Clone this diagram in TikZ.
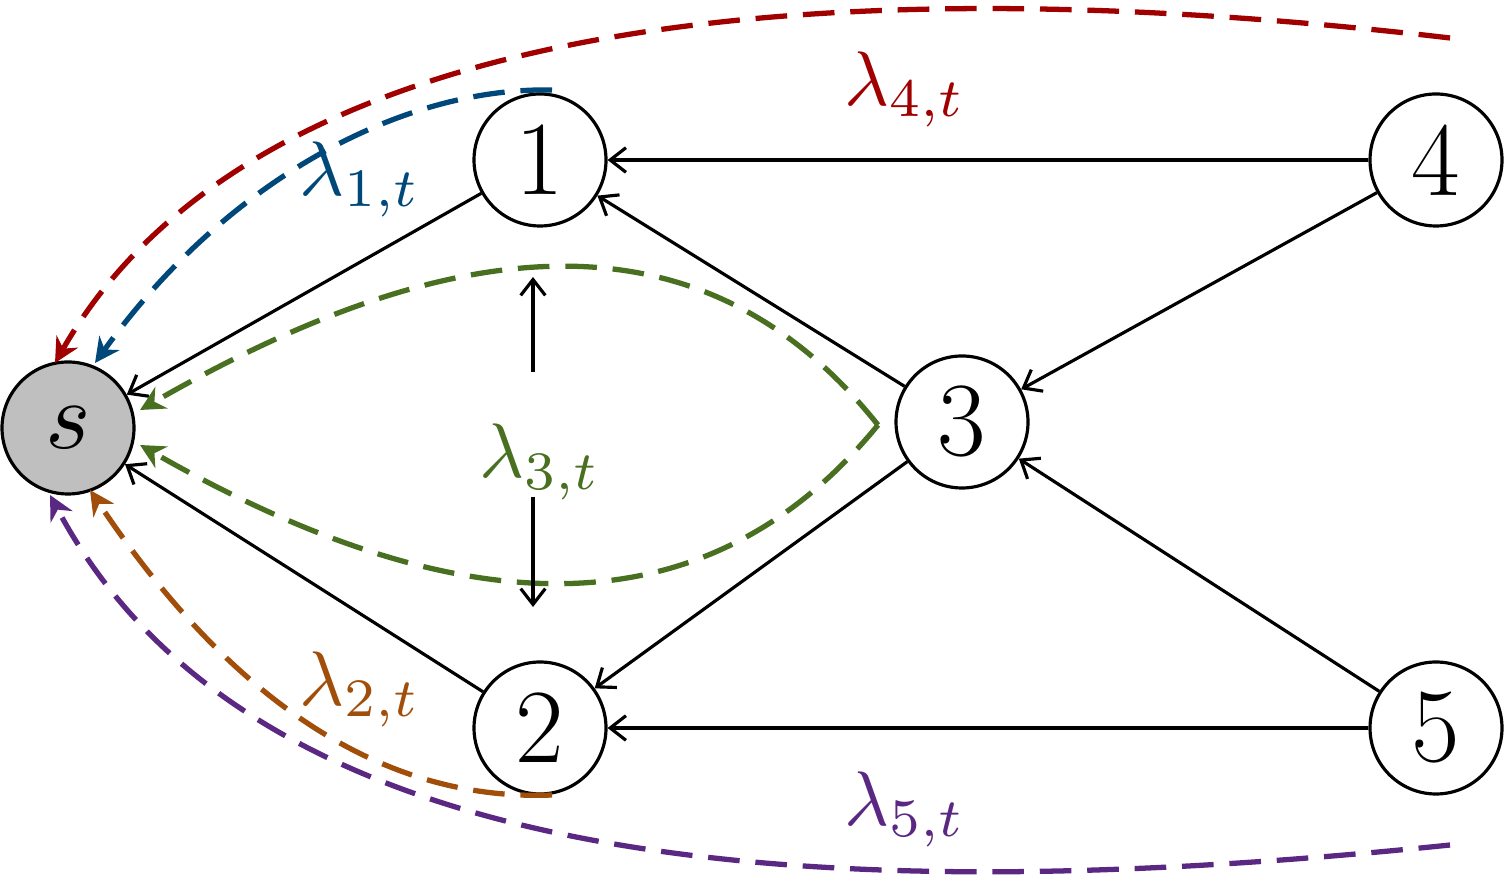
\documentclass[tikz,border=0pt]{standalone}
\usetikzlibrary{arrows.meta,positioning}
\definecolor{lred}{RGB}{160,0,0}
\definecolor{lblue}{RGB}{0,72,122}
\definecolor{lgreen}{RGB}{72,112,32}
\definecolor{lorange}{RGB}{160,78,10}
\definecolor{lpurple}{RGB}{90,40,130}
\newcommand{\rate}[1]{\scalebox{4.4}{$\lambda_{#1,t}$}}
\begin{document}
\begin{tikzpicture}[>={Straight Barb[length=9pt,width=14pt]}]
    \tikzset{vtx/.style={circle,draw=black,line width=1.8pt,minimum size=2.64cm,inner sep=0pt,font=\fontsize{60}{64}\selectfont},
      link/.style={->,line width=1.8pt},
      flow/.style={-{Stealth[length=14pt,width=14pt]},dashed,dash pattern=on 18pt off 9pt,line width=3pt}}
    \useasboundingbox (0,0) rectangle (30.08,17.64);

    \node[vtx,fill=black!25](s) at (1.36,9.08){\normalsize\scalebox{5.5}{$s$}};
    \node[vtx](n1) at (10.8,14.44){1};
    \node[vtx](n4) at (28.72,14.44){4};
    \node[vtx](n3) at (19.24,9.2){3};
    \node[vtx](n2) at (10.8,3.08){2};
    \node[vtx](n5) at (28.72,3.08){5};

    \draw[link] (n4) -- (n1);
    \draw[link] (n4) -- (n3);
    \draw[link] (n3) -- (n1);
    \draw[link] (n3) -- (n2);
    \draw[link] (n5) -- (n3);
    \draw[link] (n5) -- (n2);
    \draw[link] (n1) -- (s);
    \draw[link] (n2) -- (s);

    % dashed flows
    \coordinate (r0) at (29,16.88);
    \coordinate (b0) at (11.04,15.84);
    \coordinate (o0) at (11.04,1.74);
    \coordinate (p0) at (29,0.74);
    \coordinate (g0) at (17.56,9.14);
    \draw[flow,lred] (r0) .. controls (16,18.4) and (5,17.2) .. (1.1,10.38);
    \draw[flow,lblue] (b0) .. controls (8,15.9) and (4.5,14) .. (1.9,10.38);
    \draw[flow,lgreen] (g0) .. controls (14,13.6) and (9,13) .. (2.8,9.44);
    \draw[flow,lgreen] (g0) .. controls (14,4.8) and (9,5.2) .. (2.8,8.74);
    \draw[flow,lorange] (o0) .. controls (7.5,1.6) and (4.5,3.8) .. (1.8,7.84);
    \draw[flow,lpurple] (p0) .. controls (16,-0.6) and (5,0.2) .. (1,7.74);

    \node[lred](l4) at (18.1,15.85){\rate{4}};
    \node[lblue](l1) at (7.2,14.05){\rate{1}};
    \node[lgreen](l3) at (10.8,8.4){\rate{3}};
    \node[lorange](l2) at (7.2,3.85){\rate{2}};
    \node[lpurple](l5) at (18.1,1.45){\rate{5}};

    \coordinate (a1) at (10.66,10.2);
    \coordinate (g1) at (10.66,12.1);
    \coordinate (a2) at (10.66,7.7);
    \coordinate (g2) at (10.66,5.5);
    \draw[link] (a1) -- (g1);
    \draw[link] (a2) -- (g2);
  \end{tikzpicture}
\end{document}
